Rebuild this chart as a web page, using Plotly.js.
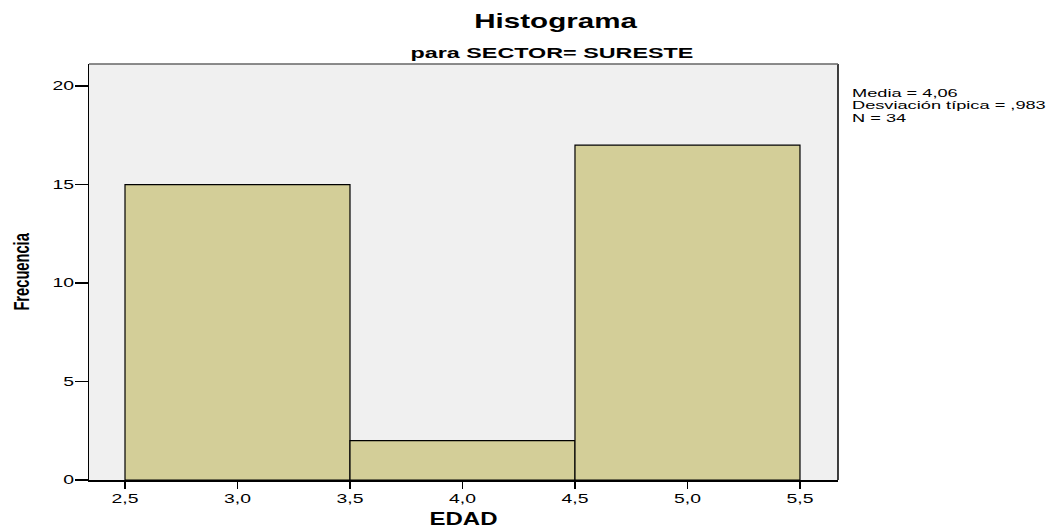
<!DOCTYPE html>
<html><head><meta charset="utf-8">
<script src="https://cdn.plot.ly/plotly-3.0.1.min.js"></script>
<style>
html,body{margin:0;padding:0;background:#fff;}
#chart{width:1061px;height:529px;}
</style>
</head><body><div id="chart"></div>
<script>
const binCenters = [3.0, 4.0, 5.0];
const frequencies = [15, 2, 17];
const xTicks = [2.5, 3.0, 3.5, 4.0, 4.5, 5.0, 5.5];
const yTicks = [0, 5, 10, 15, 20];
const statsLines = ["Media = 4,06", "Desviación típica = ,983", "N = 34"];

const trace = {
  type: 'bar', x: binCenters, y: frequencies, width: 1,
  marker: {color: '#d3ce98', line: {color: '#000', width: 1.2}},
  hoverinfo: 'x+y'
};
const FONT = 'Liberation Sans, Arial, sans-serif';
const statAnn = statsLines.map((t, i) => ({
  text: t, xref: 'paper', yref: 'paper', x: 1, xshift: 12, y: 1, yshift: -28.5 - 12.5 * i,
  xanchor: 'left', yanchor: 'middle', align: 'left', showarrow: false,
  font: {size: 11.5, family: FONT}
}));
const layout = {
  width: 1061, height: 529,
  margin: {l: 89, r: 223, t: 64, b: 49},
  paper_bgcolor: '#fff', plot_bgcolor: '#f0f0f0',
  separators: ',.',
  font: {family: FONT, color: '#000', size: 12},
  showlegend: false,
  bargap: 0,
  xaxis: {
    range: [2.34, 5.669], tickvals: xTicks, tickformat: '.1f',
    ticks: 'outside', ticklen: 7, tickwidth: 1.5, tickcolor: '#000',
    showgrid: false, zeroline: false, showline: true, linecolor: '#000', linewidth: 1.5,
    tickfont: {size: 12.5, family: FONT},
    title: {text: '<b>EDAD</b>', font: {size: 17.5, family: FONT}, standoff: 10}
  },
  yaxis: {
    range: [0, 21.12], tickvals: yTicks,
    ticks: 'outside', ticklen: 13, tickwidth: 1.5, tickcolor: '#000',
    ticklabelstandoff: -2,
    showgrid: false, zeroline: false, showline: true, linecolor: '#000', linewidth: 1.5,
    tickfont: {size: 12.5, family: FONT},
    title: {text: '<b>Frecuencia</b>', font: {size: 22, family: FONT}, standoff: 24}
  },
  shapes: [
    {type: 'line', xref: 'paper', yref: 'paper', x0: 1, x1: 1, y0: 0, y1: 1, line: {color: '#000', width: 1.5}},
    {type: 'line', xref: 'paper', yref: 'paper', x0: 0, x1: 1, y0: 1, y1: 1, line: {color: '#666', width: 1.5}}
  ],
  annotations: [
    {text: '<b>Histograma</b>', xref: 'paper', yref: 'paper', x: 0.6228, y: 1, yshift: 43, xanchor: 'center', yanchor: 'middle', showarrow: false, font: {size: 19.5, family: FONT}},
    {text: '<b>para SECTOR= SURESTE</b>', xref: 'paper', yref: 'paper', x: 0.6175, y: 1, yshift: 11.5, xanchor: 'center', yanchor: 'middle', showarrow: false, font: {size: 15, family: FONT}}
  ].concat(statAnn)
};

// horizontal stretch of rendered text, about its anchor point (visual only)
function stretch(t, s) {
  const bb = t.getBBox();
  const a = t.getAttribute('text-anchor') || 'start';
  const cx = a === 'middle' ? bb.x + bb.width / 2 : (a === 'end' ? bb.x + bb.width : bb.x);
  const prev = t.getAttribute('transform') || '';
  t.setAttribute('transform', prev + ` translate(${cx},0) scale(${s},1) translate(${-cx},0)`);
}
function stretchTo(t, w) { const bb = t.getBBox(); if (bb.width > 0) stretch(t, w / bb.width); }

Plotly.newPlot('chart', [trace], layout, {displayModeBar: false, staticPlot: true}).then(gd => {
  gd.querySelectorAll('.xtick text, .ytick text').forEach(t => stretch(t, 1.55));
  const anns = gd.querySelectorAll('.annotation text');
  if (anns[0]) stretchTo(anns[0], 163);
  if (anns[1]) stretchTo(anns[1], 283);
  if (anns[3]) {
    const s = 194 / anns[3].getBBox().width;
    [anns[2], anns[3], anns[4]].forEach(t => t && stretch(t, s));
  }
  const xt = gd.querySelector('.g-xtitle text'); if (xt) stretchTo(xt, 68);
  const yt = gd.querySelector('.g-ytitle text'); if (yt) stretchTo(yt, 78);
});
</script></body></html>
